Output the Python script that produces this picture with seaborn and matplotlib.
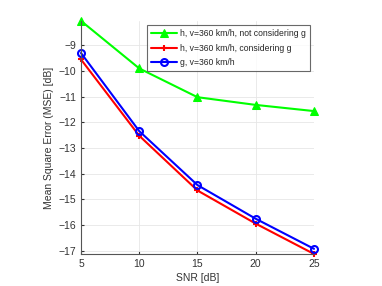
import numpy as np
import pandas as pd
import matplotlib
matplotlib.use("Agg")
import matplotlib.pyplot as plt
import seaborn as sns

# Datos
snr = [5, 10, 15, 20, 25]
h_not_g = [-8.05, -9.90, -11.02, -11.32, -11.56]
h_with_g = [-9.55, -12.52, -14.65, -15.94, -17.12]
g_only = [-9.30, -12.34, -14.44, -15.75, -16.92]
labels = ["h, v=360 km/h, not considering g",
          "h, v=360 km/h, considering g",
          "g, v=360 km/h"]

sns.set_style("whitegrid")
plt.rcParams['font.family'] = ['Liberation Sans', 'DejaVu Sans']

fig = plt.figure(figsize=(3.82, 2.86), dpi=100)
ax = fig.add_axes([0.212, 0.112, 0.61, 0.815])

# una llamada por serie para controlar los marcadores
sns.lineplot(x=snr, y=h_not_g, ax=ax, color="#00ff00", lw=1.5, marker="^",
             markersize=6, markeredgecolor="#00ff00", label=labels[0], clip_on=False)
sns.lineplot(x=snr, y=h_with_g, ax=ax, color="#ff0000", lw=1.5, marker="+",
             markersize=5, markeredgewidth=1.5, markeredgecolor="#ff0000",
             label=labels[1], clip_on=False)
sns.lineplot(x=snr, y=g_only, ax=ax, color="#0000ff", lw=1.5, marker="o",
             markersize=5, markeredgewidth=1.5, markeredgecolor="#0000ff",
             markerfacecolor="none", label=labels[2], clip_on=False)

ax.set_xlim(5, 25)
ax.set_ylim(min(h_with_g), max(h_not_g))
ax.set_xticks(snr)
ax.set_yticks(range(-17, -8))
ax.grid(True, color="#e6e6e6", lw=0.6)
for s in ["top", "right"]:
    ax.spines[s].set_visible(False)
for s in ["left", "bottom"]:
    ax.spines[s].set_color("#555555")
    ax.spines[s].set_linewidth(0.8)
ax.tick_params(direction="in", length=2, labelsize=7.5, colors="#333333",
               left=True, bottom=True)
ax.set_xlabel("SNR [dB]", fontsize=7.5, color="#333333", labelpad=3)
ax.set_ylabel("Mean Square Error (MSE) [dB]", fontsize=7.5, color="#333333", labelpad=3)

leg = ax.legend(loc="upper right", bbox_to_anchor=(1.0, 1.0), fontsize=6.2,
                frameon=True, fancybox=False, edgecolor="#444444",
                handlelength=3, borderpad=0.5, labelspacing=0.6,
                handletextpad=0.3)
leg.get_frame().set_linewidth(0.8)

fig.savefig("out.png", dpi=100)
